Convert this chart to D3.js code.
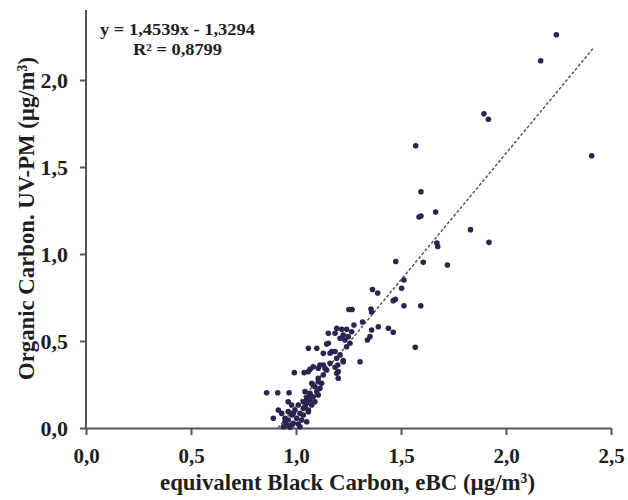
<!DOCTYPE html>
<html><head><meta charset="utf-8">
<script src="https://cdn.jsdelivr.net/npm/d3@7"></script>
<style>body{margin:0;background:#fff}svg{display:block}</style>
</head><body>
<svg id="chart" width="628" height="500"></svg>
<script>
// eBC values (µg/m3)
const ebc = [2.24,2.165,2.408,1.57,1.895,1.916,1.595,1.586,1.595,1.665,1.831,1.919,1.671,1.675,1.475,1.606,1.721,1.514,1.503,1.364,1.389,1.463,1.473,1.514,1.594,1.252,1.267,1.357,1.36,1.317,1.276,1.392,1.44,1.463,1.36,1.352,1.34,1.568,1.194,1.218,1.241,1.265,1.154,1.186,1.225,1.249,1.21,1.233,1.257,1.241,1.154,1.146,1.059,1.099,1.13,1.17,1.21,1.194,1.225,1.305,1.162,1.13,1.082,1.106,1.067,1.186,1.186,0.86,0.913,0.967,0.992,1.039,1.059,1.194,1.199,1.146,1.13,1.106,1.075,1.09,1.099,1.106,1.082,1.067,1.043,1.035,1.011,1.043,0.979,0.963,0.916,0.892,0.995,1.019,0.98,1.003,0.963,0.948,1.027,0.987,0.956,1.011,0.94,0.971,1.035,1.059,1.051,1.075,1.09,1.114,1.122,1.059,1.162,
  1.114,1.138,1.201,1.201,1.082,1.106,1.067,1.051,0.963,0.932,0.948,0.98,1.019,1.051,1.059,1.035,0.987,1.225];
// Organic carbon UV-PM values (µg/m3)
const oc = [2.26,2.111,1.565,1.622,1.806,1.774,1.358,1.213,1.218,1.241,1.14,1.067,1.063,1.043,0.957,0.952,0.937,0.851,0.803,0.796,0.776,0.732,0.74,0.703,0.703,0.681,0.681,0.684,0.667,0.609,0.592,0.582,0.573,0.55,0.563,0.525,0.506,0.464,0.573,0.567,0.567,0.553,0.544,0.544,0.534,0.525,0.516,0.506,0.487,0.467,0.487,0.483,0.458,0.458,0.429,0.439,0.42,0.401,0.388,0.381,0.372,0.362,0.352,0.343,0.337,0.349,0.439,0.203,0.203,0.203,0.318,0.318,0.324,0.314,0.362,0.333,0.305,0.286,0.257,0.237,0.209,0.19,0.18,0.161,0.209,0.151,0.132,0.122,0.132,0.151,0.103,0.056,0.103,0.084,0.075,0.056,0.046,0.036,0.046,0.027,0.017,0.023,0.007,0.004,0.075,0.103,0.142,0.132,0.151,0.228,0.257,0.18,0.43,
  0.362,0.343,0.324,0.286,0.247,0.266,0.199,0.171,0.094,0.084,0.056,0.017,0.007,0.036,0.094,0.113,0.084,0.381];
const xTicks = [0, 0.5, 1.0, 1.5, 2.0, 2.5];
const yTicks = [0, 0.5, 1.0, 1.5, 2.0];
const slope = 1.4539, intercept = -1.3294;
const eqLabel = "y = 1,4539x - 1,3294";
const r2Label = "R² = 0,8799";
const xTitle = "equivalent Black Carbon, eBC (µg/m³)";
const yTitle = "Organic Carbon. UV-PM (µg/m³)";

const svg = d3.select("#chart");
const font = "'Liberation Serif','Times New Roman',serif";
const x = d3.scaleLinear().domain([0, 2.5]).range([86, 611]);
const y = d3.scaleLinear().domain([0, 2.5]).range([428, 428 - 174 * 2.5]);
const fmt = d => d3.format(".1f")(d).replace(".", ",");
const axisCol = "#555";
const txtCol = "#1e1e1e";

// x axis
const gx = svg.append("g").attr("transform", "translate(0,428)")
  .call(d3.axisBottom(x).tickValues(xTicks).tickFormat(fmt).tickSizeInner(7).tickSizeOuter(0).tickPadding(13));
gx.select(".domain").attr("stroke", axisCol).attr("stroke-width", 2);
gx.selectAll(".tick line").attr("stroke", axisCol).attr("stroke-width", 2);
gx.selectAll(".tick text").attr("font-family", font).attr("font-weight", "bold").attr("font-size", 21).attr("fill", txtCol);

// y axis
const gy = svg.append("g").attr("transform", "translate(86,0)")
  .call(d3.axisLeft(y).tickValues(yTicks).tickFormat(fmt).tickSizeInner(6).tickSizeOuter(0).tickPadding(12));
gy.select(".domain").attr("stroke", axisCol).attr("stroke-width", 2).attr("d", `M0,${y(0)}V10`);
gy.selectAll(".tick line").attr("stroke", axisCol).attr("stroke-width", 2);
gy.selectAll(".tick text").attr("font-family", font).attr("font-weight", "bold").attr("font-size", 22).attr("fill", txtCol).attr("dy", "0.35em");

// trendline
const x0 = -intercept / slope, x1 = 2.42;
svg.append("line")
  .attr("x1", x(x0)).attr("y1", y(slope * x0 + intercept))
  .attr("x2", x(x1)).attr("y2", y(slope * x1 + intercept))
  .attr("stroke", "#555").attr("stroke-width", 1.5).attr("stroke-dasharray", "3,2");

// points
svg.append("g").selectAll("circle").data(ebc.map((d, i) => [d, oc[i]])).join("circle")
  .attr("cx", d => x(d[0])).attr("cy", d => y(d[1])).attr("r", 2.8)
  .attr("fill", "#2b2450");

// equation
svg.append("text").attr("x", 100).attr("y", 35).attr("font-family", font).attr("font-weight", "bold")
  .attr("font-size", 16).attr("fill", txtCol).attr("textLength", 155).attr("lengthAdjust", "spacingAndGlyphs").text(eqLabel);
svg.append("text").attr("x", 133).attr("y", 55).attr("font-family", font).attr("font-weight", "bold")
  .attr("font-size", 16).attr("fill", txtCol).attr("textLength", 89).attr("lengthAdjust", "spacingAndGlyphs").text(r2Label);

// titles
svg.append("text").attr("x", 160).attr("y", 490)
  .attr("font-family", font).attr("font-weight", "bold").attr("font-size", 24).attr("fill", txtCol)
  .attr("textLength", 375).attr("lengthAdjust", "spacingAndGlyphs").text(xTitle);
svg.append("text").attr("transform", "translate(34,380) rotate(-90)")
  .attr("font-family", font).attr("font-weight", "bold").attr("font-size", 24).attr("fill", txtCol)
  .attr("textLength", 323).attr("lengthAdjust", "spacingAndGlyphs").text(yTitle);
</script>
</body></html>
